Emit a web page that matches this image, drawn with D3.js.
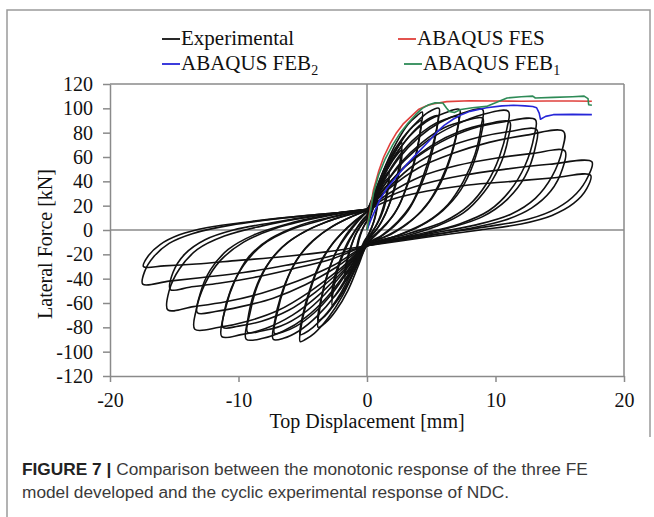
<!DOCTYPE html>
<html>
<head>
<meta charset="utf-8">
<script src="https://cdn.jsdelivr.net/npm/d3@7"></script>
<style>
  body { margin: 0; background: #fff; }
  svg { display: block; }
</style>
</head>
<body>
<div id="canvas"></div>
<script>
// axis ticks
const xTicks = [-20, -10, 0, 10, 20];
const yTicks = [-120, -100, -80, -60, -40, -20, 0, 20, 40, 60, 80, 100, 120];

// experimental cyclic response, one array per cycle [disp mm, force kN]
const expCycles = [
  [[0,0],[0.3,12],[0.6,21],[0.8,25],[0.7,15],[0.5,6],[0.2,-2],[0,-6],[-0.3,-12],[-0.6,-19],[-0.8,-22],[-0.7,-12],[-0.5,-4],[-0.2,4],[0,7]],
  [[0,7],[0.3,14],[0.6,20],[0.8,22],[0.7,13],[0.4,3],[0.1,-4],[-0.2,-9],[-0.5,-15],[-0.8,-18],[-0.7,-9],[-0.4,0],[-0.1,6],[0,8]],
  [[0,8],[0.4,20],[0.9,34],[1.4,44],[1.7,48],[1.6,35],[1.3,20],[0.9,8],[0.4,-2],[0,-8],[-0.5,-20],[-1.0,-31],[-1.4,-38],[-1.7,-42],[-1.6,-30],[-1.3,-16],[-0.9,-4],[-0.4,5],[0,10]],
  [[0,10],[0.5,22],[1.0,33],[1.4,40],[1.7,43],[1.6,31],[1.3,17],[0.8,5],[0.3,-3],[0,-8],[-0.5,-18],[-1.0,-28],[-1.4,-34],[-1.7,-37],[-1.6,-26],[-1.2,-12],[-0.8,-2],[-0.3,6],[0,10]],
  [[0,10],[0.5,25],[1.2,44],[1.9,60],[2.4,68],[2.7,72],[2.6,58],[2.2,38],[1.7,20],[1.1,6],[0.5,-3],[0,-10],[-0.6,-25],[-1.3,-40],[-2.0,-53],[-2.5,-60],[-2.7,-62],[-2.6,-48],[-2.2,-30],[-1.6,-14],[-1.0,-2],[-0.4,7],[0,12]],
  [[0,12],[0.6,26],[1.3,44],[2.0,57],[2.5,64],[2.7,66],[2.6,52],[2.1,32],[1.5,15],[0.9,3],[0.3,-5],[0,-10],[-0.7,-24],[-1.4,-37],[-2.1,-49],[-2.7,-56],[-2.6,-42],[-2.1,-25],[-1.5,-10],[-0.9,0],[-0.3,9],[0,12]],
  [[0,12],[0.6,30],[1.4,52],[2.3,72],[3.2,87],[3.9,94],[4.3,97],[4.2,85],[3.8,62],[3.2,40],[2.5,20],[1.6,6],[0.7,-4],[0,-12],[-0.7,-30],[-1.5,-50],[-2.4,-66],[-3.2,-76],[-3.8,-80],[-3.7,-66],[-3.3,-45],[-2.7,-25],[-2.0,-10],[-1.2,2],[-0.5,10],[0,15]],
  [[0,15],[0.7,30],[1.5,50],[2.4,68],[3.3,82],[3.9,88],[4.2,90],[4.1,77],[3.6,52],[2.9,30],[2.1,13],[1.2,2],[0.4,-6],[0,-12],[-0.8,-29],[-1.7,-48],[-2.6,-62],[-3.3,-71],[-3.8,-74],[-3.6,-58],[-3.1,-37],[-2.4,-18],[-1.6,-5],[-0.8,6],[0,15]],
  [[0,15],[0.7,34],[1.7,58],[2.8,76],[3.9,89],[4.8,97],[5.6,100],[5.5,88],[5.0,65],[4.3,42],[3.5,22],[2.4,7],[1.2,-4],[0,-12],[-0.9,-32],[-1.9,-54],[-3.0,-72],[-4.1,-85],[-4.8,-90],[-5.2,-91.7],[-5.1,-78],[-4.6,-56],[-3.9,-34],[-3.0,-16],[-2.0,-3],[-1.0,7],[0,15]],
  [[0,15],[0.8,33],[1.8,55],[2.9,72],[4.0,85],[4.9,92],[5.5,94],[5.4,81],[4.9,57],[4.1,34],[3.2,16],[2.1,3],[1.0,-6],[0,-12],[-1.0,-31],[-2.0,-51],[-3.1,-68],[-4.2,-80],[-4.9,-85],[-5.2,-86],[-5.0,-70],[-4.4,-47],[-3.6,-26],[-2.6,-10],[-1.5,2],[-0.6,10],[0,15]],
  [[0,15],[0.8,34],[2.0,58],[3.3,77],[4.6,89],[6.0,96],[7.2,99],[7.1,87],[6.6,64],[5.8,42],[4.8,23],[3.5,8],[1.8,-4],[0,-12],[-1.2,-32],[-2.5,-54],[-3.9,-71],[-5.3,-83],[-6.5,-89],[-7.3,-89.8],[-7.2,-76],[-6.7,-54],[-5.9,-33],[-4.8,-15],[-3.4,-2],[-1.8,8],[0,16]],
  [[0,16],[0.9,33],[2.1,55],[3.5,73],[4.9,85],[6.1,91],[7.1,93],[7.0,80],[6.4,56],[5.5,34],[4.3,16],[2.8,3],[1.3,-6],[0,-12],[-1.3,-31],[-2.7,-52],[-4.1,-68],[-5.5,-79],[-6.6,-84],[-7.2,-85],[-7.0,-69],[-6.4,-46],[-5.5,-25],[-4.2,-9],[-2.7,3],[-1.2,11],[0,16]],
  [[0,16],[1.0,35],[2.4,58],[4.0,76],[5.6,88],[7.4,96],[9.0,99],[8.9,86],[8.4,62],[7.5,40],[6.3,21],[4.7,7],[2.5,-4],[0,-13],[-1.5,-33],[-3.1,-55],[-4.8,-72],[-6.5,-83],[-8.1,-89],[-9.4,-89.8],[-9.3,-75],[-8.8,-52],[-7.9,-31],[-6.6,-14],[-4.8,-1],[-2.5,9],[0,16]],
  [[0,16],[1.1,33],[2.6,55],[4.3,72],[6.0,84],[7.7,90],[9.0,92],[8.9,79],[8.3,55],[7.3,33],[5.9,16],[4.1,3],[2.0,-6],[0,-13],[-1.6,-32],[-3.3,-53],[-5.0,-69],[-6.7,-79],[-8.2,-83],[-9.3,-84],[-9.1,-68],[-8.5,-45],[-7.5,-25],[-6.0,-9],[-4.0,3],[-2.0,11],[0,16]],
  [[0,16],[1.2,35],[2.9,57],[4.8,74],[6.8,86],[9.0,95],[11.0,97.5],[10.9,84],[10.3,60],[9.3,38],[7.9,20],[6.0,7],[3.2,-3],[0,-13],[-1.8,-33],[-3.8,-54],[-5.8,-70],[-7.9,-81],[-9.8,-86],[-11.3,-87.6],[-11.2,-72],[-10.6,-49],[-9.6,-29],[-8.1,-12],[-6.0,0],[-3.2,9],[0,17]],
  [[0,17],[1.3,33],[3.1,54],[5.1,70],[7.2,81],[9.3,87],[11.1,89],[11.0,76],[10.3,52],[9.1,31],[7.5,14],[5.4,3],[2.7,-6],[0,-13],[-1.9,-32],[-4.0,-51],[-6.1,-66],[-8.2,-75],[-10.0,-79],[-11.2,-80],[-11.0,-64],[-10.3,-42],[-9.2,-22],[-7.5,-7],[-5.2,4],[-2.6,11],[0,17]],
  [[0,17],[1.4,35],[3.4,56],[5.7,72],[8.1,83],[10.7,89],[13.1,90.7],[13.0,77],[12.3,53],[11.1,32],[9.5,16],[7.2,5],[3.8,-4],[0,-13],[-2.1,-32],[-4.5,-51],[-6.9,-66],[-9.3,-75],[-11.5,-80],[-13.4,-81.6],[-13.3,-66],[-12.6,-44],[-11.4,-25],[-9.6,-10],[-7.2,1],[-3.8,10],[0,17]],
  [[0,17],[1.5,33],[3.6,53],[6.0,67],[8.6,76],[11.1,81],[13.2,82.5],[13.1,68],[12.3,44],[10.9,25],[9.0,11],[6.5,2],[3.3,-6],[0,-13],[-2.3,-30],[-4.8,-45],[-7.3,-56],[-9.8,-63],[-11.8,-67],[-13.2,-68],[-13.0,-53],[-12.2,-33],[-10.8,-16],[-8.8,-4],[-6.2,5],[-3.2,12],[0,17]],
  [[0,17],[1.6,33],[4.0,51],[6.7,63],[9.5,72],[12.4,78],[15.3,81],[15.2,66],[14.4,44],[13.1,26],[11.2,13],[8.4,4],[4.4,-4],[0,-13],[-2.6,-29],[-5.4,-42],[-8.2,-52],[-11.0,-59],[-13.5,-63],[-15.5,-65.7],[-15.4,-50],[-14.6,-32],[-13.2,-16],[-11.1,-5],[-8.3,3],[-4.4,11],[0,17]],
  [[0,17],[1.7,30],[4.2,44],[7.0,53],[10.0,59],[12.9,63],[15.4,65],[15.2,50],[14.3,32],[12.8,18],[10.7,8],[7.8,1],[4.0,-6],[0,-13],[-2.8,-24],[-5.8,-32],[-8.8,-39],[-11.7,-44],[-13.8,-47],[-15.3,-49],[-15.1,-35],[-14.2,-20],[-12.6,-8],[-10.4,0],[-7.4,6],[-3.8,12],[0,17]],
  [[0,17],[1.8,28],[4.5,38],[7.5,45],[10.8,50],[14.2,54],[17.5,56],[17.2,44],[16.3,30],[14.8,18],[12.6,9],[9.5,3],[5.0,-4],[0,-13],[-3.0,-22],[-6.3,-29],[-9.6,-35],[-12.8,-39],[-15.4,-42],[-17.45,-44.5],[-17.3,-34],[-16.6,-22],[-15.4,-11],[-13.6,-3],[-10.6,4],[-5.5,11],[0,16]],
  [[0,16],[1.9,25],[4.7,32],[7.9,37],[11.3,40],[14.6,43],[17.4,45],[17.1,34],[16.1,22],[14.4,12],[12.0,5],[8.8,0],[4.6,-6],[0,-13],[-3.2,-18],[-6.6,-22],[-10.0,-25],[-13.3,-28],[-15.8,-29.5],[-17.4,-30],[-17.0,-21],[-16.1,-12],[-14.6,-4],[-12.4,2],[-9.0,7],[-4.6,12],[0,16]]
];

// monotonic FE responses
const feS = [[0,0],[0.2,14],[0.5,33],[0.9,48],[1.3,60],[1.8,71],[2.3,80],[2.8,87],[3.4,93],[4.0,99],[4.6,102],[5.1,103.5],[6.2,105.5],[8.0,106.2],[10.0,106],[12.0,105.8],[14.0,106],[16.0,106],[17.5,105.8]];
const feB2 = [[0,0],[0.36,9.8],[1.0,25],[1.6,35],[2.3,44],[3.1,54],[3.9,63],[4.9,74],[5.4,80],[6.0,86],[6.7,91],[7.4,95],[8.0,97.5],[9.3,100.5],[10.5,102],[11.4,102.5],[12.3,102],[12.9,101.5],[13.2,100.5],[13.4,96],[13.5,91],[13.9,93.4],[14.5,94.8],[16.0,95],[17.5,94.8]];
const feB1 = [[0,0],[0.2,12],[0.5,30],[0.9,45],[1.4,58],[2.0,70],[2.6,80],[3.2,88],[3.8,95],[4.3,100],[4.8,103],[5.3,104.5],[5.9,104.4],[6.2,100],[6.4,97.5],[6.8,96.5],[7.3,99],[8.2,100.5],[9.3,101.6],[10.0,104.5],[10.9,108.5],[12.0,109.5],[12.9,110],[13.1,108.5],[14.5,109],[16.0,109.5],[16.9,110],[17.2,108],[17.25,103],[17.5,102.5]];

const width = 654, height = 517;
const axisColor = "#8a8a8a";
const serif = "'Liberation Serif', 'Times New Roman', serif";

const svg = d3.select("#canvas").append("svg")
  .attr("width", width)
  .attr("height", height);

svg.append("rect").attr("width", width).attr("height", height).attr("fill", "#fff");

// figure frame (left rule runs down past the caption)
svg.append("path")
  .attr("d", "M7,517 V10 H650 V437")
  .attr("fill", "none")
  .attr("stroke", "#9a9a9a")
  .attr("stroke-width", 1.5);

const x = d3.scaleLinear().domain([-20, 20]).range([110, 624]);
const y = d3.scaleLinear().domain([-120, 120]).range([376, 84]);

// plot box top/right and zero lines
const grid = svg.append("g").attr("stroke", axisColor).attr("stroke-width", 1.5).attr("fill", "none");
grid.append("line").attr("x1", x(-20)).attr("x2", x(20)).attr("y1", y(120)).attr("y2", y(120));
grid.append("line").attr("x1", x(20)).attr("x2", x(20)).attr("y1", y(120)).attr("y2", y(-120));
grid.append("line").attr("x1", x(-20)).attr("x2", x(20)).attr("y1", y(0)).attr("y2", y(0));
grid.append("line").attr("x1", x(0)).attr("x2", x(0)).attr("y1", y(120)).attr("y2", y(-120));

// axes
const yAxis = svg.append("g")
  .attr("transform", `translate(${x(-20)},0)`)
  .call(d3.axisLeft(y).tickValues(yTicks).tickSize(7).tickPadding(10).tickSizeOuter(0).tickFormat(d => String(d)));
const xAxis = svg.append("g")
  .attr("transform", `translate(0,${y(-120)})`)
  .call(d3.axisBottom(x).tickValues(xTicks).tickSize(6).tickPadding(11).tickSizeOuter(0).tickFormat(d => String(d)));

[yAxis, xAxis].forEach(g => {
  g.selectAll("path, line").attr("stroke", axisColor).attr("stroke-width", 1.5);
  g.selectAll("text").attr("fill", "#111").attr("font-family", serif).attr("font-size", 20);
});

// axis titles
svg.append("text")
  .attr("x", x(0)).attr("y", 428)
  .attr("text-anchor", "middle")
  .attr("font-family", serif).attr("font-size", 20).attr("fill", "#111")
  .text("Top Displacement [mm]");

svg.append("text")
  .attr("transform", "translate(52,244) rotate(-90)")
  .attr("text-anchor", "middle")
  .attr("font-family", serif).attr("font-size", 20).attr("fill", "#111")
  .text("Lateral Force [kN]");

// curves
const line = d3.line().x(d => x(d[0])).y(d => y(d[1]));
const smooth = d3.line().x(d => x(d[0])).y(d => y(d[1])).curve(d3.curveCatmullRom.alpha(0.5));

svg.append("g")
  .selectAll("path")
  .data(expCycles)
  .join("path")
  .attr("d", smooth)
  .attr("fill", "none")
  .attr("stroke", "#111")
  .attr("stroke-width", 1.6)
  .attr("stroke-linejoin", "round");

const feSeries = [
  { data: feS, color: "#e0403c" },
  { data: feB2, color: "#2626d8" },
  { data: feB1, color: "#2e8b57" }
];

svg.append("g")
  .selectAll("path")
  .data(feSeries)
  .join("path")
  .attr("d", d => line(d.data))
  .attr("fill", "none")
  .attr("stroke", d => d.color)
  .attr("stroke-width", 1.6)
  .attr("stroke-linejoin", "round");

// legend
const legend = [
  { label: "ABAQUS FES", sub: null, color: "#e0403c", lx: 398, ly: 45 },
  { label: "Experimental", sub: null, color: "#111", lx: 162, ly: 45 },
  { label: "ABAQUS FEB", sub: "2", color: "#2626d8", lx: 162, ly: 70 },
  { label: "ABAQUS FEB", sub: "1", color: "#2e8b57", lx: 404, ly: 70 }
];

const lg = svg.append("g").selectAll("g").data(legend).join("g");
lg.append("line")
  .attr("x1", d => d.lx).attr("x2", d => d.lx + 18)
  .attr("y1", d => d.ly - 6).attr("y2", d => d.ly - 6)
  .attr("stroke", d => d.color).attr("stroke-width", 1.8);
const lt = lg.append("text")
  .attr("x", d => d.lx + 19).attr("y", d => d.ly)
  .attr("font-family", serif).attr("font-size", 21).attr("fill", "#111")
  .text(d => d.label);
lt.filter(d => d.sub).append("tspan")
  .attr("dy", 5).attr("font-size", 14)
  .text(d => d.sub);

// caption
const sans = "'Liberation Sans', Arial, Helvetica, sans-serif";
const cap = svg.append("g").attr("font-family", sans).attr("font-size", 17.3).attr("fill", "#3a3a3a");
const c1 = cap.append("text").attr("x", 22).attr("y", 475);
c1.append("tspan").attr("font-weight", "bold").attr("fill", "#222").text("FIGURE 7 |");
c1.append("tspan").text(" Comparison between the monotonic response of the three FE");
cap.append("text").attr("x", 22).attr("y", 498)
  .text("model developed and the cyclic experimental response of NDC.");
</script>
</body>
</html>
